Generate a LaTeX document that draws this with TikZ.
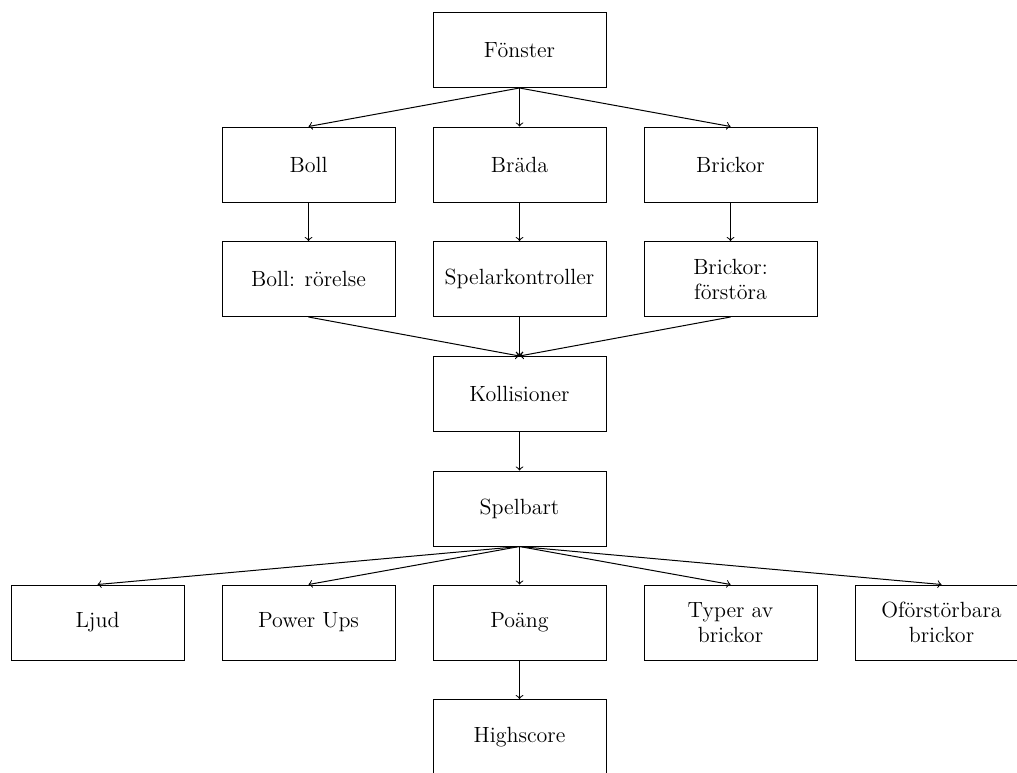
\documentclass[tikz,border=0pt]{standalone}
\begin{document}
\begin{tikzpicture}[x=0.5pt,y=-0.5pt,
  box/.style={draw, line width=0.5pt, minimum width=86.5pt, minimum height=37.5pt, align=center, inner sep=2pt, font=\fontsize{11}{12.5}\selectfont},
  arr/.style={->, line width=0.5pt}]
\useasboundingbox (0,0) rectangle (1017,772);
\def\ya{50}
\node[box] (fon) at (519.5,50) {Fönster};
\node[box] (boll) at (308.5,164.5) {Boll};
\node[box] (brada) at (519.5,164.5) {Bräda};
\node[box] (brick) at (730.5,164.5) {Brickor};
\node[box] (bollr) at (308.5,279) {Boll: rörelse};
\node[box] (spelk) at (519.5,279) {Spelarkontroller};
\node[box] (brickf) at (730.5,279) {Brickor:\\förstöra};
\node[box] (koll) at (519.5,394) {Kollisioner};
\node[box] (spelb) at (519.5,508.5) {Spelbart};
\node[box] (ljud) at (97.5,622.5) {Ljud};
\node[box] (power) at (308.5,622.5) {Power Ups};
\node[box] (poang) at (519.5,622.5) {Poäng};
\node[box] (typer) at (730.5,622.5) {Typer av\\brickor};
\node[box] (ofor) at (941.5,622.5) {Oförstörbara\\brickor};
\node[box] (high) at (519.5,737) {Highscore};
\draw[arr] (fon.south) -- (boll.north);
\draw[arr] (fon.south) -- (brada.north);
\draw[arr] (fon.south) -- (brick.north);
\draw[arr] (boll.south) -- (bollr.north);
\draw[arr] (brada.south) -- (spelk.north);
\draw[arr] (brick.south) -- (brickf.north);
\draw[arr] (bollr.south) -- (koll.north);
\draw[arr] (spelk.south) -- (koll.north);
\draw[arr] (brickf.south) -- (koll.north);
\draw[arr] (koll.south) -- (spelb.north);
\draw[arr] (spelb.south) -- (ljud.north);
\draw[arr] (spelb.south) -- (power.north);
\draw[arr] (spelb.south) -- (poang.north);
\draw[arr] (spelb.south) -- (typer.north);
\draw[arr] (spelb.south) -- (ofor.north);
\draw[arr] (poang.south) -- (high.north);
\end{tikzpicture}
\end{document}
